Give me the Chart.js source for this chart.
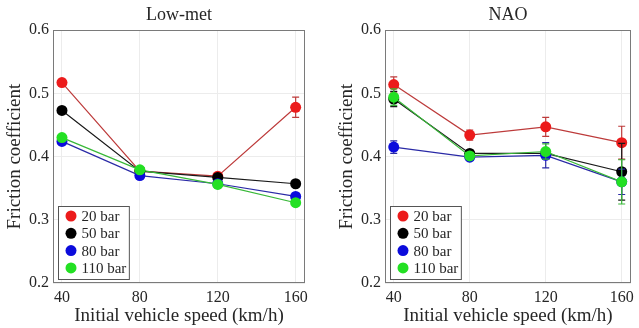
<!DOCTYPE html>
<html>
<head>
<meta charset="utf-8">
<script src="https://cdn.jsdelivr.net/npm/chart.js@4.4.1/dist/chart.umd.min.js"></script>
<style>
  html, body { margin: 0; padding: 0; background: #fff; }
  #wrap { position: relative; width: 639px; height: 328px; }
  .panel { position: absolute; top: 0; height: 328px; }
  #p1 { left: 0; width: 320px; }
  #p2 { left: 320px; width: 319px; }
</style>
</head>
<body>
<div id="wrap">
  <div class="panel" id="p1"><canvas id="c1"></canvas></div>
  <div class="panel" id="p2"><canvas id="c2"></canvas></div>
</div>
<script>
// Test conditions
const speeds = [40, 80, 120, 160];
const pressures = ['20 bar', '50 bar', '80 bar', '110 bar'];
const xTicks = [40, 80, 120, 160];
const yTicks = [0.2, 0.3, 0.4, 0.5, 0.6];

// Low-met pad: mean friction coefficient and error
const lowMet20  = [0.517, 0.377, 0.369, 0.478];
const lowMet50  = [0.473, 0.377, 0.367, 0.357];
const lowMet80  = [0.424, 0.370, 0.357, 0.337];
const lowMet110 = [0.430, 0.379, 0.356, 0.327];
const lowMetErr20  = [0.005, 0.003, 0.003, 0.016];
const lowMetErr50  = [0.003, 0.003, 0.003, 0.003];
const lowMetErr80  = [0.003, 0.003, 0.003, 0.003];
const lowMetErr110 = [0.003, 0.003, 0.003, 0.003];

// NAO pad: mean friction coefficient and error
const nao20  = [0.514, 0.434, 0.447, 0.422];
const nao50  = [0.491, 0.405, 0.405, 0.376];
const nao80  = [0.415, 0.399, 0.402, 0.360];
const nao110 = [0.494, 0.401, 0.408, 0.360];
const naoErr20  = [0.012, 0.008, 0.015, 0.026];
const naoErr50  = [0.012, 0.005, 0.005, 0.045];
const naoErr80  = [0.010, 0.005, 0.020, 0.020];
const naoErr110 = [0.013, 0.005, 0.012, 0.035];

const markerColors = ['#ec1b1b', '#000000', '#0b0bdc', '#23e023'];
const lineColors   = ['#bd3b3b', '#1a1a1a', '#2a2aa6', '#38b838'];
const serif = '"Liberation Serif", "Times New Roman", serif';
const textColor = '#262626';

// Vertical error bars, drawn just below each series' line and markers
const errorBars = {
  id: 'errorBars',
  beforeDatasetDraw(chart, args) {
    const ds = chart.data.datasets[args.index];
    if (!ds.errors) return;
    const xs = chart.scales.x, ys = chart.scales.y, ctx = chart.ctx;
    ctx.save();
    ctx.strokeStyle = ds.errColor;
    ctx.lineWidth = 1.2;
    ds.data.forEach((p, i) => {
      const e = ds.errors[i];
      const px = xs.getPixelForValue(p.x);
      const top = ys.getPixelForValue(p.y + e);
      const bot = ys.getPixelForValue(p.y - e);
      ctx.beginPath();
      ctx.moveTo(px, top); ctx.lineTo(px, bot);
      ctx.moveTo(px - 3.5, top); ctx.lineTo(px + 3.5, top);
      ctx.moveTo(px - 3.5, bot); ctx.lineTo(px + 3.5, bot);
      ctx.stroke();
    });
    ctx.restore();
  }
};

// Axes box and in-plot legend
const frameAndLegend = {
  id: 'frameAndLegend',
  afterDraw(chart) {
    const ctx = chart.ctx, a = chart.chartArea;
    ctx.save();
    ctx.strokeStyle = '#7a7a7a';
    ctx.lineWidth = 1;
    ctx.strokeRect(Math.round(a.left) + 0.5, Math.round(a.top) + 0.5,
                   Math.round(a.right - a.left) - 1, Math.round(a.bottom - a.top) - 1);

    ctx.font = '15px ' + serif;
    const dsets = chart.data.datasets;
    let maxW = 0;
    dsets.forEach(d => { maxW = Math.max(maxW, ctx.measureText(d.label).width); });
    const bx = Math.round(a.left) + 5.5;
    const rowH = 17.3;
    const bh = 73;
    const by = Math.round(a.bottom) - 3.5 - bh;
    const bw = 23 + maxW + 3;
    ctx.fillStyle = '#fff';
    ctx.fillRect(bx, by, bw, bh);
    ctx.strokeStyle = '#555';
    ctx.strokeRect(bx, by, bw, bh);
    ctx.textBaseline = 'middle';
    dsets.forEach((d, i) => {
      const cy = by + 9.5 + i * rowH;
      ctx.beginPath();
      ctx.fillStyle = d.pointBackgroundColor;
      ctx.arc(bx + 12.5, cy, 5.5, 0, Math.PI * 2);
      ctx.fill();
      ctx.fillStyle = textColor;
      ctx.fillText(d.label, bx + 23, cy + 1);
    });
    ctx.restore();
  }
};

function makePanel(canvasId, title, series, errors, padLeft, padRight) {
  const datasets = series.map((vals, k) => ({
    label: pressures[k],
    data: speeds.map((s, i) => ({ x: s, y: vals[i] })),
    errors: errors[k],
    errColor: lineColors[k],
    borderColor: lineColors[k],
    borderWidth: 1.2,
    pointRadius: 5.5,
    pointHoverRadius: 5.5,
    pointBackgroundColor: markerColors[k],
    pointBorderColor: markerColors[k],
    pointBorderWidth: 0,
    fill: false,
    tension: 0,
    order: 4 - k
  }));

  return new Chart(document.getElementById(canvasId), {
    type: 'line',
    data: { datasets },
    plugins: [errorBars, frameAndLegend],
    options: {
      responsive: true,
      maintainAspectRatio: false,
      animation: false,
      events: [],
      layout: { padding: { left: padLeft, right: padRight, top: 0, bottom: 0 } },
      plugins: {
        legend: { display: false },
        tooltip: { enabled: false },
        title: {
          display: true,
          fullSize: false,
          text: title,
          color: textColor,
          font: { family: serif, size: 18, weight: 'normal', lineHeight: 1.12 },
          padding: { top: 5, bottom: 5 }
        }
      },
      scales: {
        x: {
          type: 'linear',
          min: 35.4,
          max: 164.8,
          afterBuildTicks: s => { s.ticks = xTicks.map(v => ({ value: v })); },
          afterFit: s => { s.height = 45; },
          grid: { color: '#ececec', drawTicks: false },
          border: { display: false },
          ticks: {
            color: textColor,
            padding: 5,
            font: { family: serif, size: 16 },
            callback: v => String(v)
          },
          title: {
            display: true,
            text: 'Initial vehicle speed (km/h)',
            color: textColor,
            font: { family: serif, size: 19 },
            padding: { top: 0, bottom: 1 }
          }
        },
        y: {
          type: 'linear',
          min: 0.2,
          max: 0.6,
          afterBuildTicks: s => { s.ticks = yTicks.map(v => ({ value: v })); },
          afterFit: s => { s.width = 53; },
          grid: { color: '#ececec', drawTicks: false },
          border: { display: false },
          ticks: {
            color: textColor,
            padding: 4,
            font: { family: serif, size: 16 },
            callback: v => Number(v).toFixed(1)
          },
          title: {
            display: true,
            text: 'Friction coefficient',
            color: textColor,
            font: { family: serif, size: 19 },
            padding: { top: 4, bottom: 0 }
          }
        }
      }
    }
  });
}

makePanel('c1', 'Low-met',
  [lowMet20, lowMet50, lowMet80, lowMet110],
  [lowMetErr20, lowMetErr50, lowMetErr80, lowMetErr110], 0, 15);

makePanel('c2', 'NAO',
  [nao20, nao50, nao80, nao110],
  [naoErr20, naoErr50, naoErr80, naoErr110], 12, 2);
</script>
</body>
</html>
